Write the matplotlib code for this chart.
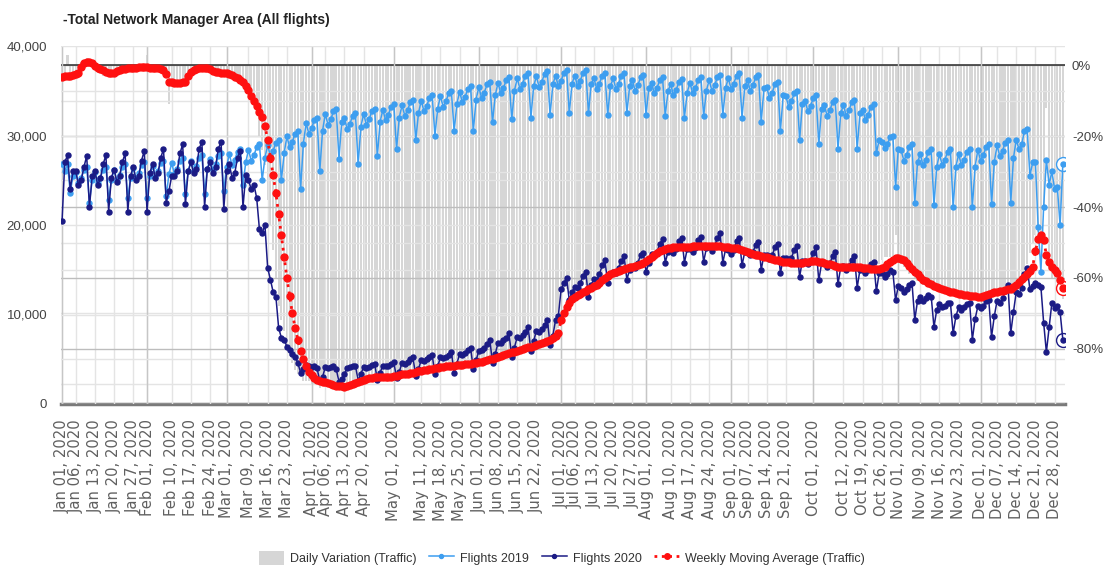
import numpy as np
import pandas as pd
import matplotlib
matplotlib.use('Agg')
import matplotlib.pyplot as plt
from matplotlib.ticker import FuncFormatter, MultipleLocator

plt.rcParams['font.family'] = ['Liberation Sans', 'DejaVu Sans']

# ---- data ----
days = pd.date_range('2020-01-01', '2020-12-31', freq='D')

# Flights 2019 (thousands), weekday aligned, one row per week (Mon..Sun)
flights_2019_k = [
    26.8, 26.0, 26.8, 23.6, 25.5,                   # Jan 01 (Wed) - Jan 05
    25.9, 24.7, 25.3, 26.2, 26.5, 22.5, 25.0,       # Jan 06
    25.9, 24.7, 25.3, 26.2, 26.5, 22.8, 25.0,       # Jan 13
    26.2, 25.0, 25.6, 26.5, 26.8, 23.0, 25.3,       # Jan 20
    26.4, 25.2, 25.8, 26.7, 27.0, 23.0, 25.5,       # Jan 27
    26.6, 25.4, 26.0, 26.9, 27.2, 23.2, 25.7,       # Feb 03
    26.9, 25.7, 26.3, 27.2, 27.5, 23.5, 26.0,       # Feb 10
    27.2, 26.0, 26.6, 27.5, 27.8, 23.5, 26.3,       # Feb 17
    27.4, 26.2, 26.8, 27.7, 28.0, 23.8, 26.5,       # Feb 24
    27.9, 26.7, 27.3, 28.2, 28.5, 24.5, 27.0,       # Mar 02
    28.4, 27.2, 27.8, 28.7, 29.0, 25.0, 27.5,       # Mar 09
    28.9, 27.7, 28.3, 29.2, 29.5, 25.0, 28.0,       # Mar 16
    29.9, 28.7, 29.3, 30.2, 30.5, 24.0, 29.0,       # Mar 23
    31.4, 30.2, 30.8, 31.7, 32.0, 26.0, 30.5,       # Mar 30
    32.4, 31.2, 31.8, 32.7, 33.0, 27.4, 31.5,       # Apr 06
    31.9, 30.7, 31.3, 32.2, 32.5, 26.8, 31.0,       # Apr 13
    32.4, 31.2, 31.8, 32.7, 33.0, 27.7, 31.5,       # Apr 20
    32.9, 31.7, 32.3, 33.2, 33.5, 28.5, 32.0,       # Apr 27
    33.4, 32.2, 32.8, 33.7, 34.0, 29.5, 32.5,       # May 04
    33.9, 32.7, 33.3, 34.2, 34.5, 30.0, 33.0,       # May 11
    34.4, 33.2, 33.8, 34.7, 35.0, 30.5, 33.5,       # May 18
    34.9, 33.7, 34.3, 35.2, 35.5, 30.5, 34.0,       # May 25
    35.4, 34.2, 34.8, 35.7, 36.0, 31.5, 34.5,       # Jun 01
    35.9, 34.7, 35.3, 36.2, 36.5, 31.8, 35.0,       # Jun 08
    36.4, 35.2, 35.8, 36.7, 37.0, 32.0, 35.5,       # Jun 15
    36.6, 35.4, 36.0, 36.9, 37.2, 32.3, 35.7,       # Jun 22
    36.7, 35.5, 36.1, 37.0, 37.3, 32.5, 35.8,       # Jun 29
    36.7, 35.5, 36.1, 37.0, 37.3, 32.5, 35.8,       # Jul 06
    36.4, 35.2, 35.8, 36.7, 37.0, 32.3, 35.5,       # Jul 13
    36.4, 35.2, 35.8, 36.7, 37.0, 32.5, 35.5,       # Jul 20
    36.2, 35.0, 35.6, 36.5, 36.8, 32.3, 35.3,       # Jul 27
    35.9, 34.7, 35.3, 36.2, 36.5, 32.2, 35.0,       # Aug 03
    35.7, 34.5, 35.1, 36.0, 36.3, 32.0, 34.8,       # Aug 10
    35.9, 34.7, 35.3, 36.2, 36.5, 32.2, 35.0,       # Aug 17
    36.2, 35.0, 35.6, 36.5, 36.8, 32.3, 35.3,       # Aug 24
    36.4, 35.2, 35.8, 36.7, 37.0, 32.0, 35.5,       # Aug 31
    36.2, 35.0, 35.6, 36.5, 36.8, 31.5, 35.3,       # Sep 07
    35.4, 34.2, 34.8, 35.7, 36.0, 30.5, 34.5,       # Sep 14
    34.4, 33.2, 33.8, 34.7, 35.0, 29.5, 33.5,       # Sep 21
    33.9, 32.7, 33.3, 34.2, 34.5, 29.0, 33.0,       # Sep 28
    33.4, 32.2, 32.8, 33.7, 34.0, 28.5, 32.5,       # Oct 05
    33.4, 32.2, 32.8, 33.7, 34.0, 28.5, 32.5,       # Oct 12
    32.9, 31.7, 32.3, 33.2, 33.5, 28.0, 29.5,       # Oct 19
    29.3, 28.6, 29.0, 29.8, 30.0, 24.3, 28.5,       # Oct 26
    28.4, 27.2, 27.8, 28.7, 29.0, 22.5, 27.0,       # Nov 02
    27.9, 26.7, 27.3, 28.2, 28.5, 22.2, 26.5,       # Nov 09
    27.9, 26.7, 27.3, 28.2, 28.5, 22.0, 26.5,       # Nov 16
    27.9, 26.7, 27.3, 28.2, 28.5, 22.0, 26.5,       # Nov 23
    28.4, 27.2, 27.8, 28.7, 29.0, 22.3, 27.0,       # Nov 30
    28.9, 27.7, 28.3, 29.2, 29.5, 22.5, 27.5,       # Dec 07
    29.5, 28.5, 29.0, 30.5, 30.7, 25.5, 27.0,       # Dec 14
    27.0, 19.8, 14.8, 22.0, 27.3, 24.5, 26.0,       # Dec 21
    24.0, 24.2, 20.0, 26.8,                         # Dec 28 - Dec 31
]

# Flights 2020 (thousands)
flights_2020_k = [
    20.4, 27.0, 27.8, 24.0, 26.0,                   # Jan 01 - Jan 05
    26.0, 24.5, 25.0, 26.5, 27.7, 22.0, 25.5,       # Jan 06
    26.0, 24.5, 25.2, 26.8, 27.8, 21.5, 25.3,       # Jan 13
    26.2, 24.8, 25.5, 27.0, 28.0, 21.5, 25.5,       # Jan 20
    26.5, 25.0, 25.5, 27.2, 28.3, 21.5, 25.8,       # Jan 27
    26.8, 25.3, 25.8, 27.5, 28.5, 22.5, 23.8,       # Feb 03
    25.5, 25.5, 26.0, 28.0, 29.0, 22.3, 26.0,       # Feb 10
    27.0, 25.8, 26.3, 28.5, 29.3, 22.0, 26.3,       # Feb 17
    27.0, 25.8, 26.5, 28.5, 29.3, 21.8, 26.0,       # Feb 24
    26.8, 25.3, 25.8, 27.5, 28.3, 22.0, 25.6,       # Mar 02
    25.0, 24.0, 24.5, 23.0, 19.5, 19.1, 20.0,       # Mar 09
    15.2, 13.9, 12.5, 12.0, 8.5, 7.4, 7.2,          # Mar 16
    6.4, 6.0, 5.6, 5.3, 4.6, 3.5, 3.9,              # Mar 23
    4.4, 4.2, 4.1, 4.2, 4.0, 2.6, 3.0,              # Mar 30
    4.1, 4.0, 4.1, 4.3, 3.9, 2.5, 2.8,              # Apr 06
    3.4, 4.0, 4.1, 4.3, 4.3, 2.6, 3.4,              # Apr 13
    4.1, 4.0, 4.1, 4.4, 4.5, 2.7, 3.5,              # Apr 20
    4.3, 4.2, 4.3, 4.5, 4.7, 2.9, 3.6,              # Apr 27
    4.6, 4.5, 4.7, 5.0, 5.2, 3.1, 3.9,              # May 04
    4.9, 4.8, 5.0, 5.3, 5.5, 3.3, 4.2,              # May 11
    5.2, 5.1, 5.3, 5.5, 5.8, 3.5, 4.5,              # May 18
    5.6, 5.5, 5.7, 6.0, 6.3, 3.9, 4.9,              # May 25
    5.9, 6.0, 6.3, 6.7, 7.2, 4.6, 5.6,              # Jun 01
    6.8, 6.8, 7.1, 7.4, 7.9, 5.3, 6.3,              # Jun 08
    7.5, 7.4, 7.7, 8.1, 8.6, 5.9, 7.0,              # Jun 15
    8.2, 8.0, 8.4, 8.8, 9.4, 6.6, 7.6,              # Jun 22
    9.4, 9.8, 12.8, 13.5, 14.1, 11.6, 12.5,         # Jun 29
    13.1, 13.0, 13.5, 14.3, 14.8, 11.9, 13.3,       # Jul 06
    14.0, 13.8, 14.5, 15.5, 16.1, 13.5, 14.5,       # Jul 13
    14.8, 14.6, 15.2, 16.0, 16.5, 13.9, 15.0,       # Jul 20
    15.3, 15.2, 15.8, 16.6, 16.9, 14.8, 15.7,       # Jul 27
    16.8, 16.5, 17.0, 17.9, 18.4, 15.8, 17.0,       # Aug 03
    17.2, 16.9, 17.3, 18.2, 18.6, 15.8, 17.3,       # Aug 10
    17.3, 17.0, 17.4, 18.3, 18.7, 15.9, 17.4,       # Aug 17
    17.5, 17.1, 17.6, 18.6, 19.1, 15.8, 17.3,       # Aug 24
    17.2, 16.8, 17.2, 18.2, 18.5, 15.5, 17.0,       # Aug 31
    16.9, 16.6, 17.0, 17.8, 18.1, 15.0, 16.7,       # Sep 07
    16.6, 16.2, 16.6, 17.5, 17.9, 14.6, 16.3,       # Sep 14
    16.3, 15.9, 16.3, 17.2, 17.6, 14.2, 16.0,       # Sep 21
    16.0, 15.6, 16.0, 16.9, 17.5, 13.8, 15.7,       # Sep 28
    15.7, 15.3, 15.7, 16.5, 17.0, 13.4, 15.3,       # Oct 05
    15.4, 15.0, 15.4, 16.1, 16.5, 13.0, 15.0,       # Oct 12
    15.0, 14.6, 15.0, 15.6, 15.9, 12.6, 14.6,       # Oct 19
    14.6, 14.2, 14.5, 15.0, 14.8, 11.6, 13.2,       # Oct 26
    13.0, 12.5, 12.8, 13.3, 13.5, 9.4, 11.5,        # Nov 02
    12.0, 11.5, 11.8, 12.2, 12.0, 8.6, 10.5,        # Nov 09
    11.2, 10.8, 11.0, 11.3, 11.3, 7.9, 9.8,         # Nov 16
    10.8, 10.5, 10.8, 11.2, 11.3, 7.2, 9.5,         # Nov 23
    10.9, 10.7, 11.0, 11.5, 11.6, 7.5, 9.8,         # Nov 30
    11.5, 11.3, 11.8, 12.6, 13.3, 7.9, 10.3,        # Dec 07
    12.5, 12.3, 13.0, 14.5, 15.2, 12.8, 13.2,       # Dec 14
    13.5, 13.3, 13.1, 9.1, 5.8, 8.6, 11.3,          # Dec 21
    10.7, 11.0, 10.3, 7.2,                          # Dec 28 - Dec 31
]

# Weekly Moving Average (Traffic), % vs 2019
weekly_avg_pct = [
    -3.2, -3.1, -3.0, -2.9, -2.6,
    -2.5, -2.2, -0.5, 0.7, 1.0, 0.9, 0.6,
    -0.2, -0.6, -1.0, -1.4, -1.8, -2.1, -2.2,
    -2.0, -1.7, -1.4, -1.1, -0.9, -0.8, -0.8,
    -0.7, -0.6, -0.5, -0.4, -0.4, -0.5, -0.6,
    -0.7, -0.6, -0.6, -0.9, -1.3, -2.5, -4.6,
    -4.8, -5.0, -5.0, -4.9, -4.8, -4.6, -3.0,
    -1.8, -1.2, -0.9, -0.7, -0.6, -0.7, -0.8,
    -1.1, -1.5, -1.8, -1.9, -2.0, -2.1, -2.2,
    -2.5, -2.8, -3.2, -3.6, -4.0, -4.8, -5.8,
    -7.0, -8.5, -10.0, -11.5, -13.0, -14.5, -17.0,
    -21.0, -26.0, -31.0, -36.0, -42.0, -48.0, -54.0,
    -60.0, -65.0, -70.0, -74.0, -77.5, -80.5, -83.0,
    -85.0, -86.5, -87.5, -88.2, -88.7, -89.0, -89.3,
    -89.5, -89.8, -90.0, -90.2, -90.4, -90.5, -90.6,
    -90.8, -90.6, -90.3, -90.0, -89.6, -89.4, -89.2,
    -88.9, -88.6, -88.3, -88.2, -88.1, -88.0, -88.0,
    -88.0, -88.0, -88.0, -88.0, -87.8, -87.6, -87.4,
    -87.2, -87.1, -87.0, -86.9, -86.8, -86.6, -86.4,
    -86.3, -86.1, -86.0, -85.8, -85.6, -85.4, -85.3,
    -85.2, -85.1, -85.0, -85.0, -84.9, -84.8, -84.7,
    -84.6, -84.5, -84.4, -84.3, -84.2, -84.1, -84.0,
    -83.8, -83.6, -83.4, -83.2, -83.0, -82.8, -82.5,
    -82.3, -82.1, -81.9, -81.6, -81.3, -81.0, -80.8,
    -80.6, -80.4, -80.1, -79.9, -79.6, -79.4, -79.2,
    -79.0, -78.7, -78.4, -78.1, -77.8, -77.5, -77.1,
    -76.5, -75.5, -72.0, -70.0, -68.2, -67.0, -66.0,
    -65.3, -64.8, -64.4, -64.0, -63.6, -63.2, -62.8,
    -62.4, -61.9, -61.3, -60.7, -60.1, -59.5, -59.0,
    -58.6, -58.3, -58.0, -57.7, -57.4, -57.2, -57.0,
    -56.8, -56.6, -56.4, -56.2, -55.8, -55.3, -54.7,
    -54.0, -53.4, -53.0, -52.5, -52.1, -51.8, -51.6,
    -51.5, -51.4, -51.4, -51.3, -51.3, -51.2, -51.2,
    -51.2, -51.1, -51.1, -51.1, -51.0, -51.0, -51.0,
    -51.0, -51.0, -51.0, -51.0, -51.1, -51.2, -51.3,
    -51.4, -51.5, -51.5, -51.6, -51.8, -52.0, -52.3,
    -52.6, -52.9, -53.2, -53.4, -53.6, -53.8, -54.0,
    -54.2, -54.4, -54.6, -54.8, -55.0, -55.2, -55.4,
    -55.5, -55.6, -55.7, -55.7, -55.8, -55.8, -55.8,
    -55.6, -55.4, -55.2, -55.1, -55.2, -55.4, -55.6,
    -55.8, -56.0, -56.2, -56.4, -56.6, -56.8, -57.0,
    -57.0, -57.0, -57.0, -57.0, -57.0, -57.0, -57.0,
    -57.1, -57.2, -57.3, -57.4, -57.5, -57.5, -57.4,
    -57.2, -56.8, -56.2, -55.5, -54.9, -54.5, -54.4,
    -54.6, -55.0, -55.8, -56.6, -57.4, -58.2, -59.0,
    -59.8, -60.6, -61.0, -61.4, -61.8, -62.2, -62.6,
    -62.9, -63.2, -63.4, -63.7, -63.9, -64.1, -64.3,
    -64.5, -64.6, -64.8, -64.9, -65.0, -65.1, -65.2,
    -65.3, -65.4, -65.2, -64.9, -64.5, -64.3, -64.1,
    -64.0, -63.8, -63.6, -63.4, -63.2, -63.0, -62.6,
    -62.0, -61.2, -60.4, -59.6, -59.0, -58.0, -56.8,
    -52.5, -49.0, -47.8, -49.3, -53.5, -55.5, -57.0,
    -57.8, -58.6, -60.5, -62.8,
]

# Daily Variation (Traffic), % vs 2019
daily_var_pct = [
    -3, -4, 3, -2, -3,
    -2, -3, 1, 1, 2, 0, 1,
    -1, -2, -1, -3, -2, -2, -3,
    -2, -1, -1, -1, -1, 0, -1,
    -1, 0, -1, 0, -1, 3, -1,
    -1, -1, -1, -1, -2, -3, -11,
    -6, -5, -5, -5, -4, -5, -3,
    -1, -1, -1, -1, -1, 0, -1,
    -1, -2, -2, -2, -2, -3, -2,
    -3, -3, -3, -4, -4, -6, -7,
    -6, -8, -9, -12, -20, -24, -28,
    -38, -45, -52, -60, -68, -72, -75,
    -80, -82, -84, -86, -87, -88, -89,
    -89, -89, -90, -90, -90, -91, -90,
    -90, -90, -90, -90, -91, -91, -92,
    -91, -91, -90, -90, -89, -89, -89,
    -89, -89, -88, -88, -88, -88, -88,
    -88, -88, -88, -88, -88, -87, -87,
    -87, -87, -87, -87, -86, -86, -86,
    -86, -86, -86, -85, -85, -85, -85,
    -85, -85, -85, -85, -85, -84, -84,
    -84, -84, -84, -84, -84, -84, -84,
    -83, -83, -83, -83, -82, -82, -82,
    -82, -81, -81, -81, -81, -80, -80,
    -80, -80, -80, -79, -79, -79, -79,
    -79, -78, -78, -78, -77, -77, -76,
    -75, -74, -66, -64, -63, -64, -63,
    -63, -63, -63, -62, -62, -62, -61,
    -61, -60, -60, -59, -58, -58, -58,
    -58, -58, -57, -57, -57, -56, -56,
    -56, -56, -55, -55, -54, -53, -53,
    -52, -52, -52, -51, -51, -51, -51,
    -51, -51, -51, -51, -51, -51, -51,
    -51, -51, -51, -51, -50, -51, -51,
    -51, -51, -51, -51, -51, -51, -52,
    -52, -52, -52, -52, -52, -53, -53,
    -53, -53, -53, -54, -54, -54, -54,
    -54, -55, -55, -55, -55, -55, -56,
    -56, -56, -56, -56, -56, -56, -55,
    -55, -55, -55, -55, -55, -56, -56,
    -56, -56, -56, -57, -57, -57, -57,
    -57, -57, -57, -57, -57, -57, -57,
    -57, -57, -57, -58, -58, -57, -56,
    -55, -54, -54, -54, -54, -48, -55,
    -56, -57, -58, -59, -59, -60, -61,
    -61, -62, -62, -62, -62, -63, -63,
    -63, -64, -64, -64, -64, -64, -65,
    -65, -65, -65, -65, -65, -65, -65,
    -65, -65, -64, -64, -64, -64, -64,
    -64, -64, -63, -63, -63, -62, -62,
    -61, -60, -59, -58, -56, -53, -50,
    -48, -47, -49, -40, -12, -58, -60,
    -60, -61, -64, -66,
]

tick_labels = [
    'Jan 01, 2020', 'Jan 06, 2020', 'Jan 13, 2020', 'Jan 20, 2020', 'Jan 27, 2020',
    'Feb 01, 2020', 'Feb 10, 2020', 'Feb 17, 2020', 'Feb 24, 2020',
    'Mar 01, 2020', 'Mar 09, 2020', 'Mar 16, 2020', 'Mar 23, 2020',
    'Apr 01, 2020', 'Apr 06, 2020', 'Apr 13, 2020', 'Apr 20, 2020',
    'May 01, 2020', 'May 11, 2020', 'May 18, 2020', 'May 25, 2020',
    'Jun 01, 2020', 'Jun 08, 2020', 'Jun 15, 2020', 'Jun 22, 2020',
    'Jul 01, 2020', 'Jul 06, 2020', 'Jul 13, 2020', 'Jul 20, 2020', 'Jul 27, 2020',
    'Aug 01, 2020', 'Aug 10, 2020', 'Aug 17, 2020', 'Aug 24, 2020',
    'Sep 01, 2020', 'Sep 07, 2020', 'Sep 14, 2020', 'Sep 21, 2020',
    'Oct 01, 2020', 'Oct 12, 2020', 'Oct 19, 2020', 'Oct 26, 2020',
    'Nov 01, 2020', 'Nov 09, 2020', 'Nov 16, 2020', 'Nov 23, 2020',
    'Dec 01, 2020', 'Dec 07, 2020', 'Dec 14, 2020', 'Dec 21, 2020', 'Dec 28, 2020',
]

C_2019 = '#3d9ef0'
C_2020 = '#1b1b85'
C_AVG = '#ff1010'
C_BAR = '#d6d6d6'

f2019 = np.array(flights_2019_k) * 1000
f2020 = np.array(flights_2020_k) * 1000
avg = np.array(weekly_avg_pct)
dvar = np.array(daily_var_pct)

tick_dates = pd.to_datetime(tick_labels, format='%b %d, %Y')
month_dates = [d for d in tick_dates if d.day == 1]
xlim = (days[0] - pd.Timedelta(hours=9), days[-1] + pd.Timedelta(hours=19))

fig = plt.figure(figsize=(11.04, 5.72), dpi=100)
rect = [61 / 1104, 1 - 404 / 572, 1004 / 1104, 358 / 572]

# back layer: percent axis with daily variation bars
ax_bg = fig.add_axes(rect)
# middle layer: flights
ax = fig.add_axes(rect, facecolor='none')
# top layer: weekly moving average
ax_red = fig.add_axes(rect, facecolor='none')

bars = ax_bg.bar(days, dvar, width=0.75, color=C_BAR, zorder=1)
ax_bg.set_xlim(*xlim)
ax_bg.set_ylim(-95.6, 5.5)
ax_bg.set_yticks([0, -20, -40, -60, -80])
ax_bg.yaxis.set_minor_locator(MultipleLocator(10))
ax_bg.yaxis.set_major_formatter(FuncFormatter(lambda v, p: f'{v:.0f}%'))
ax_bg.yaxis.tick_right()
ax_bg.set_axisbelow(False)
ax_bg.grid(axis='y', which='major', color='#bdbdbd', lw=1)
ax_bg.grid(axis='y', which='minor', color='#e4e4e4', lw=1)
ax_bg.axhline(0, color='#3a3a3a', lw=1.2, zorder=3)
ax_bg.set_xticks(tick_dates)
ax_bg.set_xticklabels(tick_labels, rotation=90, fontfamily='DejaVu Sans',
                      fontsize=10.6, color='#606060')
ax_bg.grid(axis='x', which='major', color='#e4e4e4', lw=1)
ax_bg.tick_params(axis='x', length=0, pad=11)
ax_bg.tick_params(axis='y', which='both', length=0, pad=5, labelsize=9.5,
                  labelcolor='#444444')
for s in ['top', 'left', 'right']:
    ax_bg.spines[s].set_visible(False)
ax_bg.spines['bottom'].set_color('#7a7a7a')
ax_bg.spines['bottom'].set_linewidth(2.5)

# flights
ax.plot(days[-1:], f2019[-1:], marker='o', ms=10, mfc='white', mec=C_2019,
        mew=1, ls='none', zorder=2)
ax.plot(days[-1:], f2020[-1:], marker='o', ms=10, mfc='white', mec=C_2020,
        mew=1, ls='none', zorder=2)
l2019, = ax.plot(days, f2019, color=C_2019, lw=1.1, marker='o', ms=3.6,
                 zorder=3, label='Flights 2019')
l2020, = ax.plot(days, f2020, color=C_2020, lw=1.1, marker='o', ms=3.6,
                 zorder=4, label='Flights 2020')
ax.set_xlim(*xlim)
ax.set_ylim(0, 40000)
ax.set_yticks([0, 10000, 20000, 30000, 40000])
ax.yaxis.set_minor_locator(MultipleLocator(5000))
ax.yaxis.set_major_formatter(FuncFormatter(lambda v, p: f'{v:,.0f}'))
ax.grid(axis='y', which='both', color='#e4e4e4', lw=1)
ax.set_xticks(month_dates)
ax.grid(axis='x', which='major', color='#c6c6c6', lw=1)
ax.tick_params(axis='x', length=0, labelbottom=False)
ax.tick_params(axis='y', which='both', length=0, pad=10, labelsize=9.5,
               labelcolor='#444444')
for s in ax.spines.values():
    s.set_visible(False)

# weekly moving average
ax_red.plot(days[-1:], avg[-1:], marker='o', ms=10, mfc='white', mec=C_AVG,
            mew=1, ls='none', zorder=2)
lavg, = ax_red.plot(days, avg, color=C_AVG, lw=2, ls=':', marker='o', ms=5,
                    mec=C_AVG, zorder=3, label='Weekly Moving Average (Traffic)')
ax_red.set_xlim(*xlim)
ax_red.set_ylim(-95.6, 5.5)
ax_red.set_xticks([])
ax_red.set_yticks([])
for s in ax_red.spines.values():
    s.set_visible(False)

fig.text(63 / 1104, 1 - 20 / 572, '-Total Network Manager Area (All flights)',
         fontsize=10, fontweight='bold', va='center', ha='left', color='#222222')

fig.legend([bars, l2019, l2020, lavg],
           ['Daily Variation (Traffic)', 'Flights 2019', 'Flights 2020',
            'Weekly Moving Average (Traffic)'],
           loc='center', bbox_to_anchor=(0.509, 0.0245), ncol=4, frameon=False,
           fontsize=9, handlelength=2.0, handleheight=1.3, markerscale=0.8,
           handletextpad=0.5, columnspacing=1.0, labelcolor='#333333')

fig.savefig('out.png', dpi=100)
